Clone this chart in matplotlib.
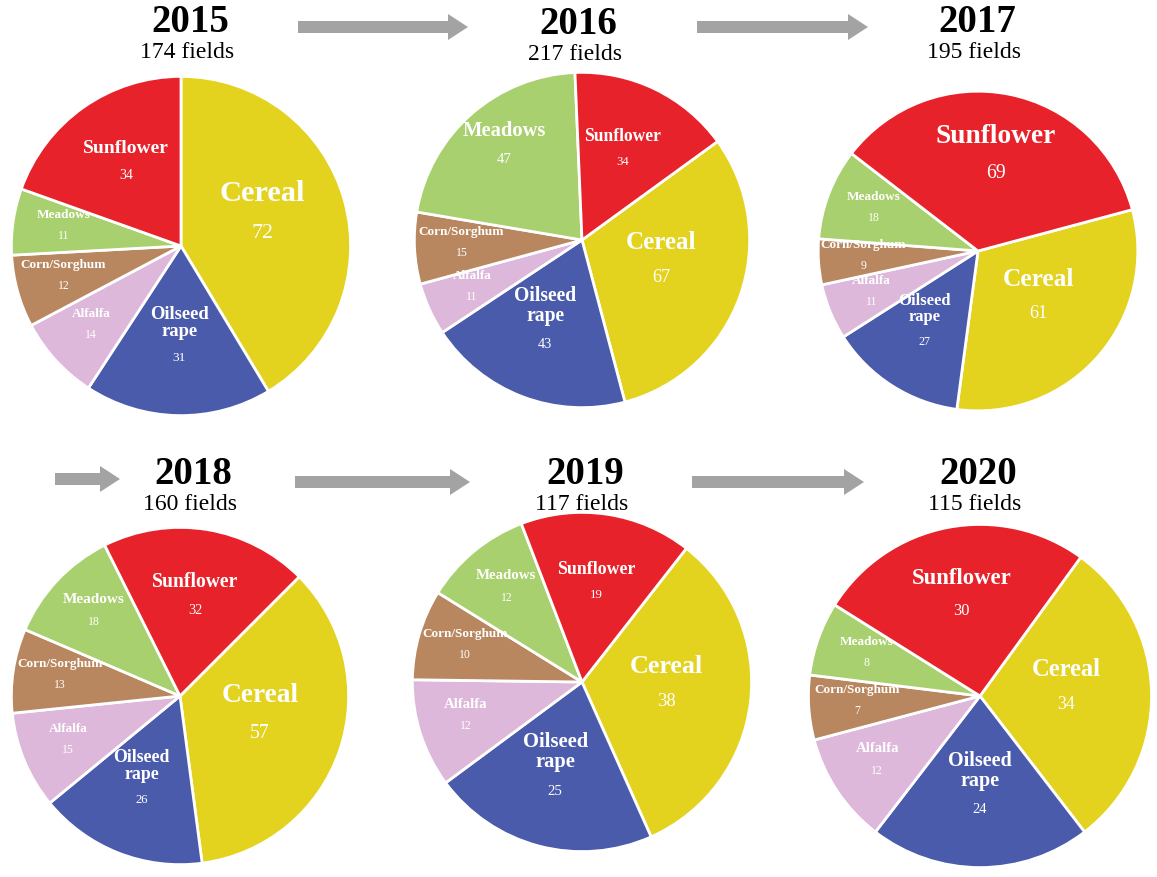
import matplotlib.pyplot as plt
from matplotlib.patches import FancyArrow
import numpy as np

plt.rcParams['font.family'] = ['Liberation Serif', 'DejaVu Serif']

# data
years = ["2015", "2016", "2017", "2018", "2019", "2020"]
fields = [174, 217, 195, 160, 117, 115]
crops = ["Cereal", "Oilseed\nrape", "Alfalfa", "Corn/Sorghum", "Meadows", "Sunflower"]
cereal = [72, 67, 61, 57, 38, 34]
oilseed = [31, 43, 27, 26, 25, 24]
alfalfa = [14, 11, 11, 15, 12, 12]
corn = [12, 15, 9, 13, 10, 7]
meadows = [11, 47, 18, 18, 12, 8]
sunflower = [34, 34, 69, 32, 19, 30]

colors = ["#E3D21E", "#4A5BAB", "#DDB8DB", "#B8875F", "#A9D06E", "#E7222A"]
label_r = [0.5, 0.62, 0.72, 0.72, 0.7, 0.56]

# pixel layout of each pie (center x, center y, radius) and start angle of Cereal
W, H = 1157, 878
pies = [(181, 247, 173), (582, 241, 171), (978, 252, 163),
        (180, 697, 172), (582, 683, 173), (980, 697, 175)]
starts = [90, 36, 15, 45, 52, 54]
titles = [(190, 20), (578, 22), (977, 20), (193, 473), (585, 473), (978, 473)]

fig = plt.figure(figsize=(W / 100, H / 100), dpi=100)

for i, yr in enumerate(years):
    vals = [cereal[i], oilseed[i], alfalfa[i], corn[i], meadows[i], sunflower[i]]
    cx, cy, r = pies[i]
    ax = fig.add_axes([(cx - r) / W, (H - cy - r) / H, 2 * r / W, 2 * r / H])
    wedges, _ = ax.pie(vals, colors=colors, startangle=starts[i], counterclock=False,
                       radius=1, wedgeprops=dict(edgecolor="white", linewidth=2))
    ax.set_xlim(-1.02, 1.02)
    ax.set_ylim(-1.02, 1.02)
    ax.set_aspect("equal")
    ax.axis("off")
    total = sum(vals)
    for k, w in enumerate(wedges):
        ang = np.deg2rad((w.theta1 + w.theta2) / 2)
        x = label_r[k] * np.cos(ang)
        y = label_r[k] * np.sin(ang)
        frac = vals[k] / total
        fs = min(22, 7 + 36 * frac)
        if k in (2, 3, 4) and frac < 0.1:
            fs = 9.5
        vfs = max(8.5, fs * 0.72)
        ax.text(x, y + 0.015 + 0.004 * fs, crops[k], ha="center", va="bottom",
                color="white", fontsize=fs, fontweight="bold", linespacing=1.0)
        ax.text(x, y, str(vals[k]), ha="center", va="top",
                color="white", fontsize=vfs)

# titles and arrows on an overlay in pixel coordinates
ov = fig.add_axes([0, 0, 1, 1], zorder=5)
ov.set_xlim(0, W)
ov.set_ylim(H, 0)
ov.axis("off")
ov.patch.set_alpha(0)
for i, yr in enumerate(years):
    tx, ty = titles[i]
    ov.text(tx, ty + 2, yr, ha="center", va="center", fontsize=28, fontweight="bold")
    ov.text(tx - 3, ty + 32, f"{fields[i]} fields", ha="center", va="center", fontsize=17)

arrows = [(298, 468, 28), (697, 868, 28), (55, 120, 480), (295, 470, 483), (692, 864, 483)]
for x0, x1, y in arrows:
    ov.add_patch(FancyArrow(x0, y, x1 - x0, 0, width=12, head_width=26, head_length=20,
                            length_includes_head=True, color="#A3A3A3", lw=0))

plt.savefig("out.png", dpi=100)
